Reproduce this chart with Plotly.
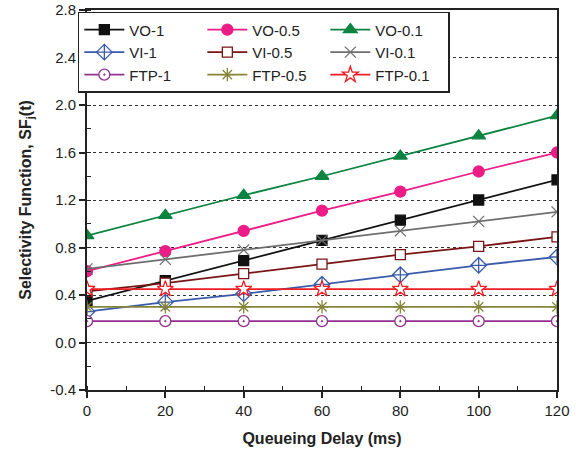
import plotly.graph_objects as go

delay = [0, 20, 40, 60, 80, 100, 120]

vo_1 = [0.35, 0.52, 0.69, 0.86, 1.03, 1.20, 1.37]
vo_05 = [0.60, 0.77, 0.94, 1.11, 1.27, 1.44, 1.60]
vo_01 = [0.90, 1.07, 1.24, 1.40, 1.57, 1.74, 1.91]
vi_1 = [0.26, 0.34, 0.41, 0.49, 0.57, 0.65, 0.72]
vi_05 = [0.43, 0.50, 0.58, 0.66, 0.74, 0.81, 0.89]
vi_01 = [0.62, 0.70, 0.78, 0.86, 0.94, 1.02, 1.10]
ftp_1 = [0.18, 0.18, 0.18, 0.18, 0.18, 0.18, 0.18]
ftp_05 = [0.30, 0.30, 0.30, 0.30, 0.30, 0.30, 0.30]
ftp_01 = [0.45, 0.45, 0.45, 0.45, 0.45, 0.45, 0.45]

y_tick_vals = [-0.4, 0.0, 0.4, 0.8, 1.2, 1.6, 2.0, 2.4, 2.8]
y_tick_text = ["-0.4", "0.0", "0.4", "0.8", "1.2", "1.6", "2.0", "2.4", "2.8"]

series_names = ["VO-1", "VO-0.5", "VO-0.1", "VI-1", "VI-0.5", "VI-0.1",
                "FTP-1", "FTP-0.5", "FTP-0.1"]
series_values = [vo_1, vo_05, vo_01, vi_1, vi_05, vi_01, ftp_1, ftp_05, ftp_01]

styles = [
    dict(color="#111111", symbol="square", fill="#111111", size=10),
    dict(color="#EC1C86", symbol="circle", fill="#EC1C86", size=11),
    dict(color="#0A8440", symbol="triangle-up", fill="#0A8440", size=12),
    dict(color="#3A5BAA", symbol="diamond-cross", fill="white", size=12),
    dict(color="#7A1416", symbol="square", fill="white", size=10),
    dict(color="#6E6E6E", symbol="x-thin-open", fill="#6E6E6E", size=11),
    dict(color="#93308F", symbol="circle-dot", fill="white", size=11),
    dict(color="#85853A", symbol="asterisk-open", fill="#85853A", size=11),
    dict(color="#EE1C25", symbol="star", fill="white", size=12),
]

fig = go.Figure()
for name, vals, st in zip(series_names, series_values, styles):
    fig.add_trace(go.Scatter(
        x=delay, y=vals, name=name, mode="lines+markers",
        line=dict(color=st["color"], width=1.8),
        marker=dict(symbol=st["symbol"], size=st["size"], color=st["fill"],
                    line=dict(color=st["color"], width=1.3)),
    ))

font_family = "Liberation Sans, Arial, sans-serif"

fig.update_layout(
    width=576, height=458,
    margin=dict(l=87, r=19, t=10, b=68),
    paper_bgcolor="white", plot_bgcolor="white",
    font=dict(family=font_family, size=14, color="#222222"),
    showlegend=True,
    legend=dict(
        orientation="h", x=0.772, y=0.995, xanchor="right", yanchor="top",
        entrywidth=68, entrywidthmode="pixels",
        bgcolor="white", bordercolor="#222222", borderwidth=1.5,
        font=dict(size=15, family=font_family, color="#222222"),
        tracegroupgap=0, itemwidth=40,
    ),
    xaxis=dict(
        range=[0, 120], tick0=0, dtick=20, automargin=False,
        ticks="outside", ticklen=6, tickwidth=1.5, tickcolor="#222222",
        showline=True, linecolor="#222222", linewidth=2, mirror=True,
        showgrid=False, zeroline=False,
        minor=dict(dtick=10, ticks="inside", ticklen=4, tickcolor="#222222", tickwidth=1.2, showgrid=False),
        title=dict(text="<b>Queueing Delay (ms)</b>", font=dict(size=16, family=font_family, color="#222222"), standoff=15),
        tickfont=dict(size=15),
    ),
    yaxis=dict(
        range=[-0.4, 2.8], tickmode="array", tickvals=y_tick_vals, ticktext=y_tick_text,
        automargin=False,
        ticks="outside", ticklen=6, tickwidth=1.5, tickcolor="#222222",
        showline=True, linecolor="#222222", linewidth=2, mirror=True,
        showgrid=True, gridcolor="#333333", griddash="dot", gridwidth=1,
        zeroline=False,
        minor=dict(tickmode="linear", tick0=-0.4, dtick=0.2, ticks="inside", ticklen=4, tickcolor="#222222", tickwidth=1.2, showgrid=False),
        title=dict(text="<b>Selectivity Function, SF<sub>j</sub>(t)</b>", font=dict(size=16, family=font_family, color="#222222"), standoff=15),
        tickfont=dict(size=15),
    ),
)

fig.write_html("out.html", config={"displayModeBar": False},
               post_script="document.body.style.margin='0';")
